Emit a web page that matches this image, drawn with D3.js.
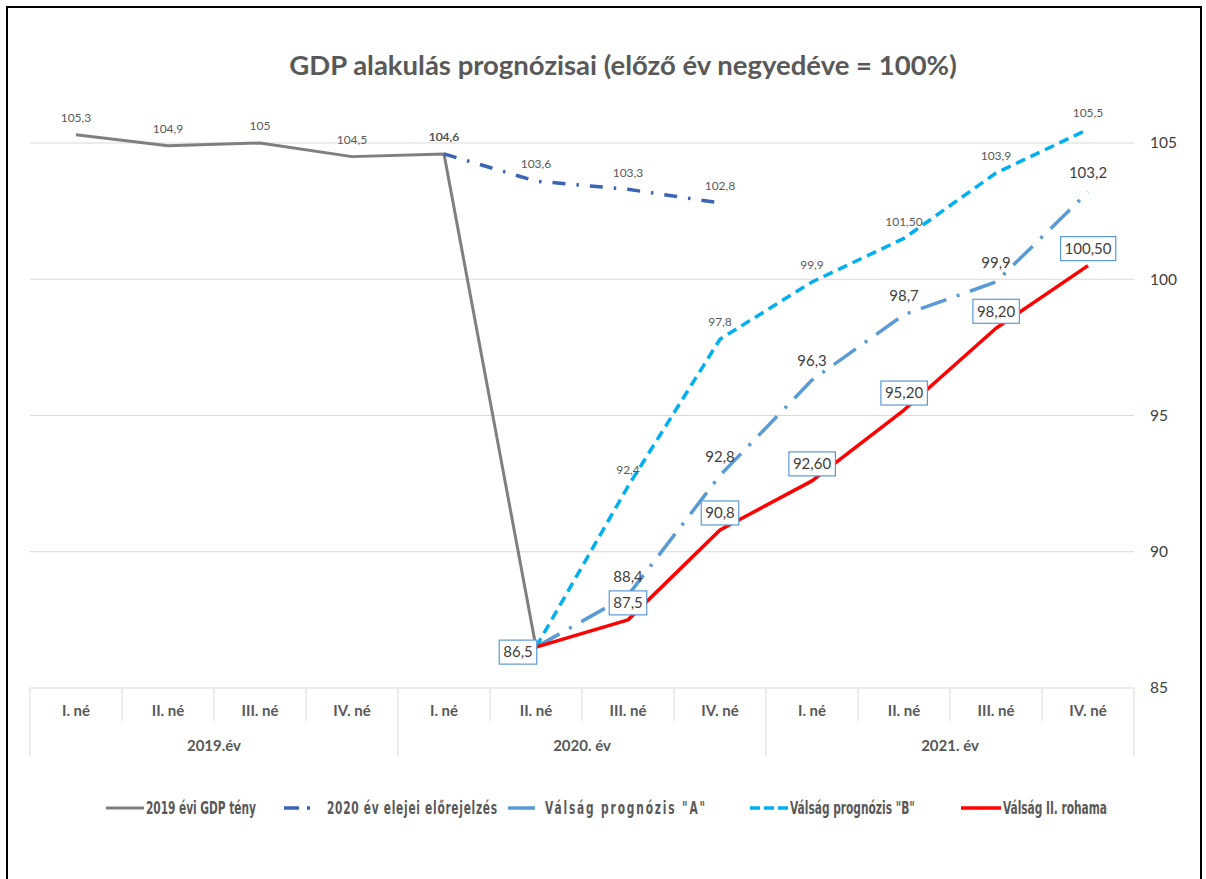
<!DOCTYPE html>
<html>
<head>
<meta charset="utf-8">
<script src="https://cdn.jsdelivr.net/npm/d3@7/dist/d3.min.js"></script>
<style>
  body { margin: 0; background: #fff; }
  svg text { font-family: Lato, "Open Sans", sans-serif; }
</style>
</head>
<body>
<div id="chart"></div>
<script>
// negyedévek és évek
const quarters = ["I. né", "II. né", "III. né", "IV. né",
                  "I. né", "II. né", "III. né", "IV. né",
                  "I. né", "II. né", "III. né", "IV. né"];
const years = ["2019.év", "2020. év", "2021. év"];
const yTicks = [85, 90, 95, 100, 105];

// sorozatok (null = nincs adat)
const tenyValues   = [105.3, 104.9, 105, 104.5, 104.6, 86.5, null, null, null, null, null, null];
const tenyLabels   = ["105,3", "104,9", "105", "104,5", "104,6", null, null, null, null, null, null, null];

const elejeiValues = [null, null, null, null, 104.6, 103.6, 103.3, 102.8, null, null, null, null];
const elejeiLabels = [null, null, null, null, "104,6", "103,6", "103,3", "102,8", null, null, null, null];

const progAValues  = [null, null, null, null, null, 86.5, 88.4, 92.8, 96.3, 98.7, 99.9, 103.2];
const progALabels  = [null, null, null, null, null, null, "88,4", "92,8", "96,3", "98,7", "99,9", "103,2"];

const progBValues  = [null, null, null, null, null, 86.5, 92.4, 97.8, 99.9, 101.5, 103.9, 105.5];
const progBLabels  = [null, null, null, null, null, null, "92,4", "97,8", "99,9", "101,50", "103,9", "105,5"];

const rohamValues  = [null, null, null, null, null, 86.5, 87.5, 90.8, 92.6, 95.2, 98.2, 100.5];
const rohamLabels  = [null, null, null, null, null, "86,5", "87,5", "90,8", "92,60", "95,20", "98,20", "100,50"];

const series = [
  { name: "2019 évi GDP tény", values: tenyValues, labels: tenyLabels, color: "#7f7f7f", width: 3,
    dash: null, labelSize: 12, labelColor: "#595959",
    legendX: 106, legendLen: 38, legendTextW: 110 },
  { name: "2020 év elejei előrejelzés", values: elejeiValues, labels: elejeiLabels, color: "#3b64b4", width: 3.5,
    dash: "13,11,2.5,11", labelSize: 12, labelColor: "#595959",
    legendX: 284, legendLen: 26, legendDash: "15,8,3,100", legendGap: 41, legendTextW: 171 },
  { name: "Válság prognózis \"A\"", values: progAValues, labels: progALabels, color: "#5b9bd5", width: 3.5,
    dash: "27,11,3,11", labelSize: 15, labelColor: "#404040", labelOff: 19,
    legendX: 508, legendLen: 27, legendGap: 35, legendTextW: 162 },
  { name: "Válság prognózis \"B\"", values: progBValues, labels: progBLabels, color: "#00b0f0", width: 3.5,
    dash: "10,6", labelSize: 12, labelColor: "#595959",
    legendX: 750, legendLen: 38, legendDash: "10,4", legendTextW: 125 },
  { name: "Válság II. rohama", values: rohamValues, labels: rohamLabels, color: "#ff0000", width: 3.5,
    dash: null, labelSize: 15, labelColor: "#404040", boxed: true,
    legendX: 961, legendLen: 40, legendTextW: 104 }
];

const W = 1206, H = 879;

const svg = d3.select("#chart").append("svg")
    .attr("width", W)
    .attr("height", H);

svg.append("rect")
    .attr("width", W).attr("height", H).attr("fill", "#fff");

// keret
svg.append("rect")
    .attr("x", 7).attr("y", 7)
    .attr("width", 1194).attr("height", H + 20)
    .attr("fill", "none")
    .attr("stroke", "#000")
    .attr("stroke-width", 2);

const x = d3.scaleBand()
    .domain(d3.range(quarters.length))
    .range([30, 1134])
    .padding(0);

const y = d3.scaleLinear()
    .domain([85, 105])
    .range([688, 143]);

const cx = i => x(i) + x.bandwidth() / 2;

// cím
svg.append("text")
    .attr("x", 623).attr("y", 75)
    .attr("text-anchor", "middle")
    .attr("font-size", 27.5)
    .attr("font-weight", "bold")
    .attr("fill", "#595959")
    .text("GDP alakulás prognózisai (előző év negyedéve = 100%)");

// rácsvonalak
svg.append("g")
  .selectAll("line")
  .data(yTicks)
  .join("line")
    .attr("x1", x.range()[0])
    .attr("x2", x.range()[1])
    .attr("y1", d => y(d))
    .attr("y2", d => y(d))
    .attr("stroke", "#d9d9d9")
    .attr("stroke-width", 1);

// jobb oldali tengely
const yAxis = svg.append("g")
    .attr("transform", "translate(1150,0)")
    .call(d3.axisRight(y).tickValues(yTicks).tickSize(0).tickPadding(0).tickFormat(d3.format("d")));
yAxis.select(".domain").remove();
yAxis.selectAll("text")
    .attr("font-size", 15.5)
    .attr("fill", "#404040")
    .style("font-family", "Lato, sans-serif");

// kategória tengely (két szint)
const catG = svg.append("g");
const y0 = y(85);
catG.selectAll("line.q")
  .data(d3.range(quarters.length + 1))
  .join("line")
    .attr("class", "q")
    .attr("x1", d => x.range()[0] + d * x.bandwidth())
    .attr("x2", d => x.range()[0] + d * x.bandwidth())
    .attr("y1", y0)
    .attr("y2", d => d % 4 === 0 ? y0 + 68 : y0 + 33)
    .attr("stroke", "#d9d9d9")
    .attr("stroke-width", 1);

catG.selectAll("text.q")
  .data(quarters)
  .join("text")
    .attr("class", "q")
    .attr("x", (d, i) => cx(i))
    .attr("y", y0 + 28)
    .attr("text-anchor", "middle")
    .attr("font-size", 15)
    .attr("font-weight", "bold")
    .attr("fill", "#595959")
    .text(d => d);

catG.selectAll("text.yr")
  .data(years)
  .join("text")
    .attr("class", "yr")
    .attr("x", (d, i) => (cx(i * 4) + cx(i * 4 + 3)) / 2)
    .attr("y", y0 + 63)
    .attr("text-anchor", "middle")
    .attr("font-size", 15)
    .attr("font-weight", "bold")
    .attr("fill", "#595959")
    .text(d => d);

// vonalak
const line = d3.line()
    .defined(d => d != null)
    .x((d, i) => cx(i))
    .y(d => y(d));

svg.append("g")
  .selectAll("path")
  .data(series)
  .join("path")
    .attr("d", s => line(s.values))
    .attr("fill", "none")
    .attr("stroke", s => s.color)
    .attr("stroke-width", s => s.width)
    .attr("stroke-dasharray", s => s.dash)
    .attr("stroke-linejoin", "round");

// adatfeliratok
series.forEach(s => {
  const g = svg.append("g");
  const pts = s.values.map((v, i) => ({ v, i, label: s.labels[i] })).filter(d => d.label != null);
  pts.forEach(d => {
    const px = cx(d.i), py = y(d.v);
    let tx = px, ty = py - (s.labelOff || 17);
    if (s.boxed && d.i === 5) { tx = px - 18; ty = py + 5; }
    const t = g.append("text")
        .attr("x", tx)
        .attr("y", ty)
        .attr("dy", "0.35em")
        .attr("text-anchor", "middle")
        .attr("font-size", s.labelSize)
        .attr("fill", s.labelColor)
        .text(d.label);
    if (s.boxed) {
      const bb = t.node().getBBox();
      g.insert("rect", "text")
          .attr("x", bb.x - 4).attr("y", ty - 12)
          .attr("width", bb.width + 8).attr("height", 24)
          .attr("fill", "#fff")
          .attr("stroke", "#5b9bd5")
          .attr("stroke-width", 1.2);
    }
  });
});

// jelmagyarázat: keskenyített betű, a szélességet betűközzel igazítjuk
const legY = 808;
const leg = svg.append("g");
const legTexts = [];
series.forEach(s => {
  const lg = leg.append("g");
  lg.append("line")
      .attr("x1", s.legendX).attr("x2", s.legendX + s.legendLen)
      .attr("y1", legY).attr("y2", legY)
      .attr("stroke", s.color).attr("stroke-width", s.width)
      .attr("stroke-dasharray", s.legendDash || null);
  const t = lg.append("text")
      .attr("dy", "0.36em")
      .attr("font-size", 17)
      .attr("font-weight", "bold")
      .attr("fill", "#595959")
      .style("font-family", "'DejaVu Sans Condensed', 'Liberation Sans', sans-serif")
      .text(s.name);
  legTexts.push({ s, t, w: t.node().getComputedTextLength() });
});
const kx = 125 / legTexts[3].w;
legTexts.forEach(({ s, t, w }) => {
  const n = s.name.length;
  const ls = (s.legendTextW / kx - w) / n;
  t.attr("letter-spacing", ls)
   .attr("transform", `translate(${s.legendX + (s.legendGap || s.legendLen) + 2},${legY}) scale(${kx},1)`);
});
</script>
</body>
</html>
